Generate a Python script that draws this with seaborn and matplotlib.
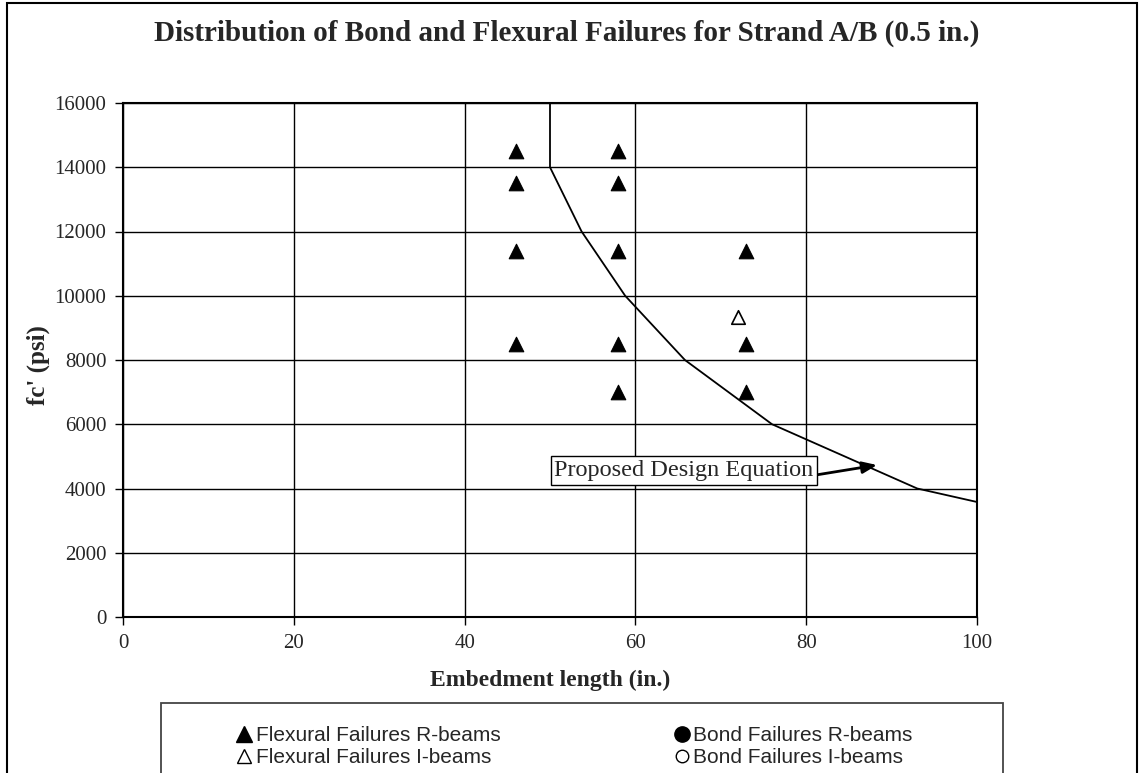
import matplotlib
matplotlib.use("Agg")
import matplotlib.pyplot as plt
from matplotlib.lines import Line2D
from matplotlib.patches import Rectangle
import seaborn as sns
import pandas as pd

# ---- data ----
flex_r_x = [46, 46, 46, 46, 58, 58, 58, 58, 58, 73, 73, 73]
flex_r_y = [14500, 13500, 11400, 8500, 14500, 13500, 11400, 8500, 7000, 11400, 8500, 7000]
flex_i_x = [72]
flex_i_y = [9350]
curve_x = [50, 50, 53.7, 58.8, 65.8, 76, 93, 100]
curve_y = [16000, 14000, 12000, 10000, 8000, 6000, 4000, 3580]
x_ticks = [0, 20, 40, 60, 80, 100]
y_ticks = [0, 2000, 4000, 6000, 8000, 10000, 12000, 14000, 16000]
legend_labels = ["Flexural Failures R-beams", "Flexural Failures I-beams",
                 "Bond Failures R-beams", "Bond Failures I-beams"]

sns.set_style("white")
plt.rcParams["font.family"] = ["Liberation Serif", "DejaVu Serif"]

W, H = 1141, 773
fig = plt.figure(figsize=(W / 100, H / 100), dpi=100)
fig.patch.set_facecolor("white")

def fx(px):
    return px / W

def fy(py):
    return 1 - py / H

ax = fig.add_axes([fx(123), fy(617), fx(977) - fx(123), fy(103) - fy(617)])

curve_df = pd.DataFrame({"x": curve_x, "y": curve_y})
sns.lineplot(data=curve_df, x="x", y="y", sort=False, estimator=None,
             color="black", lw=1.3, ax=ax, zorder=3)

fr_df = pd.DataFrame({"x": flex_r_x, "y": flex_r_y})
sns.scatterplot(data=fr_df, x="x", y="y", marker="^", s=110, color="black",
                edgecolor="black", linewidth=0.8, ax=ax, zorder=4)
fi_df = pd.DataFrame({"x": flex_i_x, "y": flex_i_y})
sns.scatterplot(data=fi_df, x="x", y="y", marker="^", s=95, facecolor="white",
                edgecolor="black", linewidth=1.2, ax=ax, zorder=4)

ax.set_xlim(0, 100)
ax.set_ylim(0, 16000)
ax.set_xticks(x_ticks)
ax.set_yticks(y_ticks)
ax.set_xticklabels([str(v) for v in x_ticks], fontsize=15)
ax.set_yticklabels([str(v) for v in y_ticks], fontsize=15)
ax.tick_params(direction="out", length=6, width=1, color="black", pad=6,
               bottom=True, left=True)
ax.grid(True, color="black", lw=1)
ax.set_axisbelow(True)
for s in ax.spines.values():
    s.set_color("black")
    s.set_linewidth(1.5)
    s.set_visible(True)

ax.set_xlabel("Embedment length (in.)", fontsize=17, fontweight="bold")
ax.xaxis.set_label_coords(0.5, -(680 - 617) / (617 - 103), transform=ax.transAxes)
ax.set_ylabel("fc' (psi)", fontsize=18, fontweight="bold")
ax.yaxis.set_label_coords(-(123 - 38) / (977 - 123), 0.5 - 5 / 514, transform=ax.transAxes)
ax.xaxis.label.set_va("center")
ax.yaxis.label.set_va("center")

ax.annotate("Proposed Design Equation", xy=(88.3, 4730), xytext=(65.7, 4560),
            fontsize=17.5, ha="center", va="center", zorder=6,
            bbox=dict(boxstyle="square,pad=0.15", fc="white", ec="black", lw=1),
            arrowprops=dict(arrowstyle="-|>,head_length=0.5,head_width=0.2",
                            color="black", lw=2, relpos=(1, 0.27),
                            shrinkA=0, shrinkB=0))

fig.text(fx(567), fy(33), "Distribution of Bond and Flexural Failures for Strand A/B (0.5 in.)",
         ha="center", va="center", fontsize=21, fontweight="bold")

# outer chart border
fig.patches.append(Rectangle((fx(7), -0.05), fx(1137) - fx(7), fy(3) + 0.05,
                             transform=fig.transFigure, fill=False, ec="black",
                             lw=1.5, zorder=0))
# legend box
fig.patches.append(Rectangle((fx(161), -0.05), fx(1003) - fx(161), fy(703) + 0.05,
                             transform=fig.transFigure, fill=False, ec="#444444",
                             lw=1.3, zorder=0))

handles = [
    Line2D([], [], ls="none", marker="^", ms=11, mfc="black", mec="black"),
    Line2D([], [], ls="none", marker="^", ms=10, mfc="white", mec="black", mew=1),
    Line2D([], [], ls="none", marker="o", ms=11, mfc="black", mec="black"),
    Line2D([], [], ls="none", marker="o", ms=9, mfc="white", mec="black", mew=1),
]
leg = fig.legend(handles, legend_labels, ncol=2, loc="upper left",
                 bbox_to_anchor=(fx(236), fy(726)), frameon=False,
                 prop={"family": "Liberation Sans", "size": 15},
                 handlelength=0.8, handletextpad=0.15, columnspacing=8.3,
                 labelspacing=0.15, borderpad=0, borderaxespad=0)

fig.savefig("out.png", dpi=100, facecolor="white")
